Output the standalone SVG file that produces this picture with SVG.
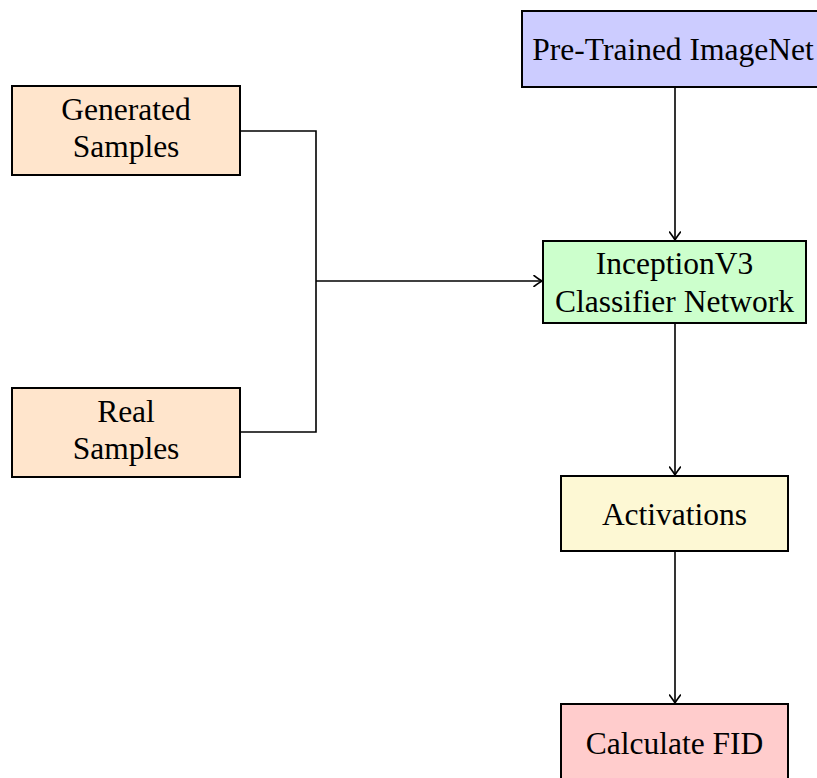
<svg xmlns="http://www.w3.org/2000/svg" width="817" height="778" viewBox="0 0 817 778">
<defs>
<marker id="arr" viewBox="-9 -6 10 12" markerWidth="10" markerHeight="12" refX="0" refY="0" orient="auto" markerUnits="userSpaceOnUse">
<path d="M-8,-5.5 Q-2,-1 0,0 Q-2,1 -8,5.5" fill="none" stroke="#000" stroke-width="1.6" stroke-linecap="round"/>
</marker>
</defs>
<style>
.box{stroke:#000;stroke-width:2}
.t{font-family:"Liberation Serif","Times New Roman",serif;font-size:31.5px;fill:#000;text-anchor:middle}
.c{fill:none;stroke:#000;stroke-width:1.6}
</style>
<rect width="817" height="778" fill="#fff"/>
<g id="connectors">
<path class="c" d="M675,87 V240" marker-end="url(#arr)"/>
<path class="c" d="M240,131 H316 V432 H240"/>
<path class="c" d="M316,281 H542" marker-end="url(#arr)"/>
<path class="c" d="M675,323 V475" marker-end="url(#arr)"/>
<path class="c" d="M675,551 V703" marker-end="url(#arr)"/>
</g>
<g id="pretrained">
<rect class="box" x="522" y="11" width="305" height="76" fill="#ccccff"/>
<text class="t" x="673" y="60">Pre-Trained ImageNet</text>
</g>
<g id="generated">
<rect class="box" x="12" y="86" width="228" height="89" fill="#ffe5cc"/>
<text class="t" x="126" y="120">Generated</text>
<text class="t" x="126" y="157">Samples</text>
</g>
<g id="real">
<rect class="box" x="12" y="388" width="228" height="89" fill="#ffe5cc"/>
<text class="t" x="126" y="422">Real</text>
<text class="t" x="126" y="459">Samples</text>
</g>
<g id="inception">
<rect class="box" x="543" y="241" width="263" height="82" fill="#ccffcc"/>
<text class="t" x="674.5" y="274">InceptionV3</text>
<text class="t" x="674.5" y="312">Classifier Network</text>
</g>
<g id="activations">
<rect class="box" x="561" y="476" width="227" height="75" fill="#fdf8d4"/>
<text class="t" x="674.5" y="525">Activations</text>
</g>
<g id="fid">
<rect class="box" x="561" y="704" width="227" height="80" fill="#ffcccc"/>
<text class="t" x="674.5" y="754">Calculate FID</text>
</g>
</svg>
